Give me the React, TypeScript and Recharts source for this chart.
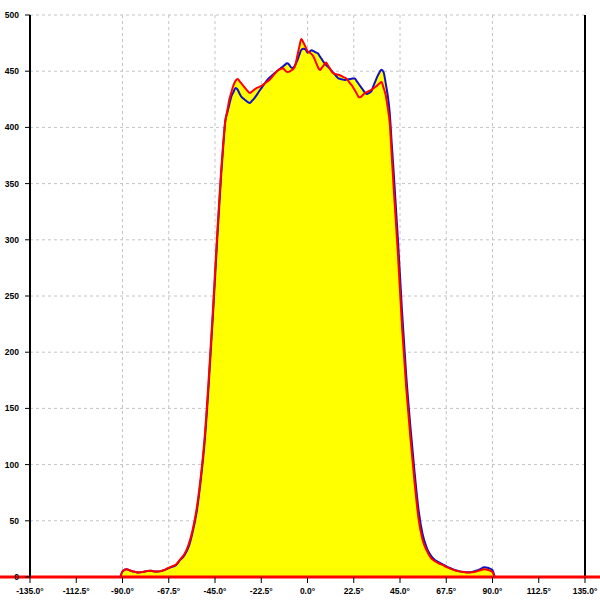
import { ComposedChart, Area, Line, XAxis, YAxis, CartesianGrid, ReferenceLine } from 'recharts';

// angle samples: 2° on the tails, 1° across the plateau
const ANGLES = [
  -91, -90, -88, -86, -84, -82, -80, -78, -76, -74, -72, -70, -68, -66, -64, -62, -60, -58, -56, -54, -52, -50, -48, -46, -44, -42, -41,
  -40, -39, -38, -37, -36, -35, -34, -33, -32, -31, -30, -29, -28, -27, -26, -25, -24, -23, -22, -21,
  -20, -19, -18, -17, -16, -15, -14, -13, -12, -11, -10, -9, -8, -7, -6, -5, -4, -3, -2, -1,
  0, 1, 2, 3, 4, 5, 6, 7, 8, 9, 10, 11, 12, 13, 14, 15, 16, 17, 18, 19,
  20, 21, 22, 23, 24, 25, 26, 27, 28, 29, 30, 31, 32, 33, 34, 35, 36, 37, 38, 39, 40,
  41, 42, 44, 46, 48, 50, 52, 54, 56, 58, 60, 62, 64, 66, 68, 70, 72, 74, 76, 78, 80, 82, 84, 86, 88, 90, 91,
];

const RED = [
  0, 5, 6.8, 5.6, 4.6, 4, 4.5, 5.3, 5.5, 4.8, 5, 6, 7.8, 9.5, 11, 15.5, 20, 28, 41, 60, 88, 125, 178, 238, 303, 362, 386,
  405.5, 415, 425, 431.5, 437.6, 441.4, 443, 441, 438.8, 436.6, 434.3, 432.1, 430.6, 432, 433.4, 434.8, 435.6, 436.4, 437.5, 438.8,
  440.2, 441.5, 443.3, 445.4, 447.6, 449.7, 451.3, 451.9, 452.6, 450.9, 449.3, 449.4, 450.6, 451.8, 455, 463.3, 471.6, 478.6, 475.5, 471.8,
  468, 466.6, 465.2, 462.7, 458.3, 454, 451, 453.2, 455.4, 457.7, 455.1, 452, 449, 447.8, 447.3, 446.9, 446.2, 445.3, 444.4, 443.2,
  440.9, 438.6, 436.2, 433.1, 430, 426.8, 427.2, 429, 430.6, 431.5, 432.4, 433.3, 434.7, 436, 437.4, 439, 440.5, 435.2, 429.1, 418, 404,
  374, 344, 287, 222, 169, 125, 86, 52, 33, 23.5, 17, 14, 12, 10.5, 8.5, 7, 5.8, 5, 4.5, 4, 4.2, 4.8, 6, 6.8, 6.2, 4.5, 0,
];

const BLUE = [
  0, 5, 6.8, 5.6, 4.6, 4, 4.5, 5.3, 5.5, 4.8, 5, 6, 7.5, 9, 10.5, 15, 19, 26, 39, 57, 85, 121, 173, 233, 298, 358, 383,
  405.5, 413.3, 420.6, 427.7, 431.4, 435.1, 433.6, 429.9, 426.9, 425.4, 423.9, 422.5, 421.8, 423.6, 425.5, 428.1, 430.8, 433.5, 436.1, 438.6,
  441.1, 443.3, 445, 446.6, 448.3, 449.8, 451.3, 452.7, 454.1, 455.6, 457, 456, 453.3, 452.8, 455.6, 459.5, 464.4, 469, 469.9, 469.5,
  466.5, 467.5, 468.7, 467.8, 466.8, 465.9, 463.2, 460.5, 457.8, 455.7, 453.8, 451.9, 449.9, 447.7, 445.5, 443.6, 443.1, 442.7, 442.2, 442.5,
  442.8, 443.1, 443.4, 443.5, 441, 438.4, 435.9, 433.4, 430.9, 429.8, 430.8, 431.8, 436.4, 441, 445.4, 448.9, 451.3, 449.2, 439.8, 428.6, 413,
  385, 358, 300, 236, 180, 135, 95, 60, 38, 26, 19, 15, 13, 11, 9, 7.5, 6, 5, 4.5, 4.2, 4.5, 5.5, 7, 8.6, 8, 6, 0,
];

const X_TICKS = [-135, -112.5, -90, -67.5, -45, -22.5, 0, 22.5, 45, 67.5, 90, 112.5, 135];
const Y_TICKS = [0, 50, 100, 150, 200, 250, 300, 350, 400, 450, 500];

const data = ANGLES.map((angle, i) => ({ angle, red: RED[i], blue: BLUE[i] }));

const tickStyle = { fontSize: 8.5, fontWeight: 'bold', fill: '#000', fontFamily: '"Liberation Sans", sans-serif' };

export default function App() {
  return (
    <div style={{ position: 'absolute', left: 0, top: 0 }}>
      <ComposedChart width={600} height={600} data={data} margin={{ top: 15, right: 15, bottom: 0, left: 0 }}>
        <CartesianGrid stroke="#c4c4c4" strokeDasharray="3 3" />
        <XAxis
          type="number"
          dataKey="angle"
          domain={[-135, 135]}
          ticks={X_TICKS}
          allowDataOverflow
          height={23}
          axisLine={false}
          tickLine={{ stroke: '#000' }}
          tickSize={6}
          tickMargin={5}
          tick={tickStyle}
          tickFormatter={(v: number) => `${v.toFixed(1)}°`}
        />
        <YAxis
          domain={[0, 500]}
          ticks={Y_TICKS}
          width={30}
          axisLine={{ stroke: '#000', strokeWidth: 2 }}
          tickLine={{ stroke: '#000' }}
          tickSize={5}
          tickMargin={6}
          tick={tickStyle}
        />
        <Area type="monotone" dataKey="blue" stroke="none" fill="#ffff00" fillOpacity={1} isAnimationActive={false} />
        <Area type="monotone" dataKey="red" stroke="none" fill="#ffff00" fillOpacity={1} isAnimationActive={false} />
        <ReferenceLine x={135} stroke="#000" strokeWidth={2} />
        <ReferenceLine
          segment={[{ x: -150, y: 0 }, { x: 150, y: 0 }]}
          stroke="#ff0000"
          strokeWidth={3}
          ifOverflow="visible"
        />
        <Line type="monotone" dataKey="blue" stroke="#1010c8" strokeWidth={2} dot={false} activeDot={false} isAnimationActive={false} />
        <Line type="monotone" dataKey="red" stroke="#ff0000" strokeWidth={2} dot={false} activeDot={false} isAnimationActive={false} />
      </ComposedChart>
    </div>
  );
}
